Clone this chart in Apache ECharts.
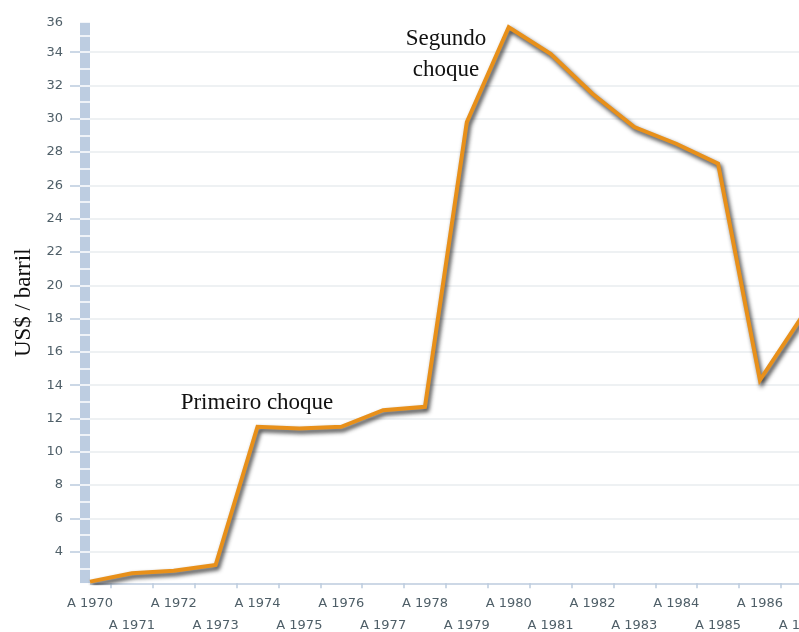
<!DOCTYPE html>
<html>
<head>
<meta charset="utf-8">
<title>Preço do petróleo</title>
<script src="https://cdn.jsdelivr.net/npm/echarts@6/dist/echarts.min.js"></script>
<style>
  html, body { margin: 0; padding: 0; background: #ffffff; overflow: hidden; }
  #chart { width: 840px; height: 632px; }
</style>
</head>
<body>
<div id="chart"></div>
<script>
// Annual oil price, US$ per barrel
const YEARS = [1970, 1971, 1972, 1973, 1974, 1975, 1976, 1977, 1978,
               1979, 1980, 1981, 1982, 1983, 1984, 1985, 1986, 1987];
const PRICE = [2.2, 2.7, 2.85, 3.2, 11.5, 11.4, 11.5, 12.5, 12.7,
               29.8, 35.5, 33.9, 31.5, 29.5, 28.5, 27.3, 14.3, 18.1];

// Value axis extent (labels every 2, marks on the ruler every 1)
const Y_MIN = 2.1;
const Y_MAX = 35.8;
const Y_TICKS = [4, 6, 8, 10, 12, 14, 16, 18, 20, 22, 24, 26, 28, 30, 32, 34];

const Y_NAME = 'US$ / barril';
const NOTE_FIRST = 'Primeiro choque';
const NOTE_SECOND = 'Segundo\nchoque';

const LABEL_FONT = '"DejaVu Sans", Verdana, sans-serif';
const SERIF_FONT = '"Liberation Serif", "Times New Roman", serif';
const LABEL_COLOR = '#4f5f68';
const AXIS_BLUE = '#bccbde';
const BAR_BLUE = '#bdcde1';

// year labels alternate between two rows; tick marks sit between the years
const EVEN_YEARS = YEARS.filter(function (y) { return y % 2 === 0; });
const ODD_YEARS = YEARS.filter(function (y) { return y % 2 === 1; });
const X_TICKS = YEARS.slice(0, YEARS.length - 1).map(function (y) { return y + 0.5; });

function yearLabel(v) { return 'A ' + Math.round(v); }

const xCommon = {
  type: 'value',
  position: 'bottom',
  min: YEARS[0],
  max: YEARS[YEARS.length - 1],
  splitLine: { show: false }
};

const chart = echarts.init(document.getElementById('chart'), null, { renderer: 'canvas' });

chart.setOption({
  backgroundColor: '#ffffff',
  animation: false,
  grid: {
    left: 90,
    right: 38.2,
    top: 22.2,
    bottom: 48.7,
    outerBoundsMode: 'none',
    containLabel: false
  },
  xAxis: [
    Object.assign({}, xCommon, {
      axisLine: { show: true, lineStyle: { color: AXIS_BLUE, width: 1.5, cap: 'butt' } },
      axisTick: {
        show: true,
        length: 5,
        customValues: X_TICKS,
        lineStyle: { color: AXIS_BLUE, width: 1.5 }
      },
      axisLabel: {
        customValues: EVEN_YEARS,
        showMinLabel: true,
        showMaxLabel: true,
        margin: 14,
        color: LABEL_COLOR,
        fontFamily: LABEL_FONT,
        fontSize: 13,
        formatter: yearLabel
      }
    }),
    Object.assign({}, xCommon, {
      axisLine: { show: false },
      axisTick: { show: false },
      axisLabel: {
        customValues: ODD_YEARS,
        showMinLabel: true,
        showMaxLabel: true,
        margin: 36,
        color: LABEL_COLOR,
        fontFamily: LABEL_FONT,
        fontSize: 13,
        formatter: yearLabel
      }
    })
  ],
  yAxis: [
    {
      // main scale: ruler bar, labels, grid lines
      type: 'value',
      position: 'left',
      min: Y_MIN,
      max: Y_MAX,
      minInterval: 2,
      maxInterval: 2,
      offset: 5,
      name: Y_NAME,
      nameLocation: 'middle',
      nameRotate: 90,
      nameGap: 47,
      nameTextStyle: { fontFamily: SERIF_FONT, fontSize: 23, color: '#111111' },
      axisLine: { show: true, lineStyle: { color: BAR_BLUE, width: 10, cap: 'butt' } },
      axisTick: { show: false },
      axisLabel: {
        margin: 22,
        color: LABEL_COLOR,
        fontFamily: LABEL_FONT,
        fontSize: 13,
        formatter: function (v) {
          return v <= Y_MIN ? '' : String(Math.round(v));
        }
      },
      splitLine: {
        show: true,
        showMinLine: false,
        showMaxLine: false,
        lineStyle: { color: '#e8ecef', width: 1.5 }
      }
    },
    {
      // white unit marks across the ruler bar
      type: 'value',
      position: 'left',
      min: Y_MIN,
      max: Y_MAX,
      minInterval: 1,
      maxInterval: 1,
      offset: 0,
      z: 3,
      axisLine: { show: false },
      axisTick: { show: true, length: 10, lineStyle: { color: '#ffffff', width: 1.5 } },
      axisLabel: { show: false },
      splitLine: { show: false }
    },
    {
      // short marks left of the ruler at each labelled value
      type: 'value',
      position: 'left',
      min: Y_MIN,
      max: Y_MAX,
      minInterval: 2,
      maxInterval: 2,
      offset: 10,
      z: 3,
      axisLine: { show: false },
      axisTick: {
        show: true,
        length: 10,
        customValues: Y_TICKS,
        lineStyle: { color: AXIS_BLUE, width: 1.5 }
      },
      axisLabel: { show: false },
      splitLine: { show: false }
    }
  ],
  series: [
    {
      type: 'line',
      xAxisIndex: 0,
      yAxisIndex: 0,
      data: YEARS.map(function (y, i) { return [y, PRICE[i]]; }),
      showSymbol: false,
      symbol: 'none',
      z: 5,
      lineStyle: {
        color: '#e8901a',
        width: 4,
        join: 'miter',
        shadowColor: 'rgba(20, 20, 20, 0.85)',
        shadowBlur: 4,
        shadowOffsetX: 2,
        shadowOffsetY: 3
      }
    }
  ],
  graphic: [
    {
      type: 'text',
      x: 257,
      y: 403,
      z: 10,
      style: {
        text: NOTE_FIRST,
        fill: '#111111',
        fontFamily: SERIF_FONT,
        fontSize: 23,
        align: 'center',
        verticalAlign: 'middle'
      }
    },
    {
      type: 'text',
      x: 446,
      y: 54,
      z: 10,
      style: {
        text: NOTE_SECOND,
        fill: '#111111',
        fontFamily: SERIF_FONT,
        fontSize: 23,
        lineHeight: 31,
        align: 'center',
        verticalAlign: 'middle'
      }
    }
  ]
});
</script>
</body>
</html>
